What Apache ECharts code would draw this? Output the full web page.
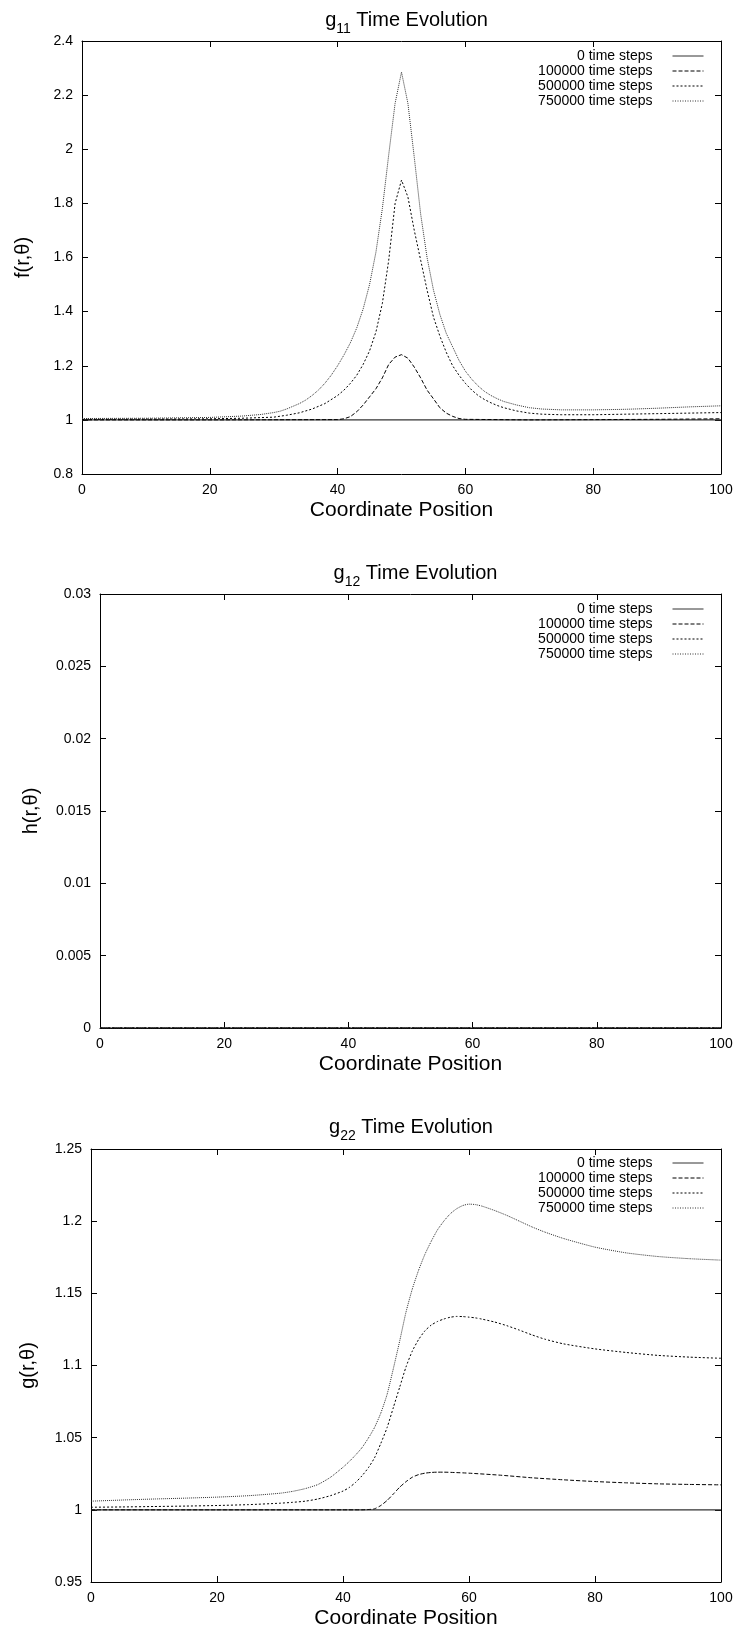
<!DOCTYPE html>
<html><head><meta charset="utf-8">
<script src="https://cdn.jsdelivr.net/npm/echarts@6/dist/echarts.min.js"></script>
<style>html,body{margin:0;padding:0;background:#fff}#c{width:738px;height:1631px}</style>
</head><body><div id="c"></div><script>
// ---------- DATA ----------
const seriesNames = ['0 time steps', '100000 time steps', '500000 time steps', '750000 time steps'];
const chartTitles = [['g', '11'], ['g', '12'], ['g', '22']];
const yNames = ['f(r,\u03b8)', 'h(r,\u03b8)', 'g(r,\u03b8)'];
const xName = 'Coordinate Position';

// g11
const g11_0_x = [0, 100];
const g11_0_y = [1, 1];
const g11_100k_x = [0, 20, 40, 41, 42, 43, 44, 45, 46, 47, 48, 49, 50, 51, 52, 53, 54, 55, 56, 57, 58, 59, 60, 70, 80, 90, 100];
const g11_100k_y = [1.0, 1.0, 1.001, 1.004, 1.012, 1.03, 1.055, 1.085, 1.115, 1.155, 1.205, 1.232, 1.241, 1.228, 1.195, 1.155, 1.11, 1.078, 1.045, 1.025, 1.013, 1.005, 1.002, 1.0, 1.001, 1.002, 1.004];
const g11_500k_x = [0, 10, 20, 25, 30, 32, 34, 36, 38, 40, 41, 42, 43, 44, 45, 46, 47, 48, 49, 50, 51, 52, 53, 54, 55, 56, 57, 58, 59, 60, 61, 62, 63, 64, 65, 66, 68, 70, 72, 75, 80, 85, 90, 95, 100];
const g11_500k_y = [1.002, 1.003, 1.004, 1.006, 1.01, 1.017, 1.026, 1.04, 1.06, 1.09, 1.11, 1.135, 1.165, 1.205, 1.255, 1.325, 1.43, 1.59, 1.8, 1.886, 1.824, 1.7, 1.59, 1.48, 1.38, 1.31, 1.25, 1.2, 1.165, 1.135, 1.11, 1.09, 1.075, 1.063, 1.053, 1.045, 1.033, 1.025, 1.021, 1.019, 1.019, 1.021, 1.023, 1.025, 1.027];
const g11_750k_x = [0, 10, 20, 25, 28, 30, 31, 32, 33, 34, 35, 36, 37, 38, 39, 40, 41, 42, 43, 44, 45, 46, 47, 48, 49, 50, 51, 52, 53, 54, 55, 56, 57, 58, 59, 60, 61, 62, 63, 64, 65, 66, 68, 70, 72, 75, 80, 85, 90, 95, 100];
const g11_750k_y = [1.005, 1.006, 1.009, 1.014, 1.02, 1.027, 1.032, 1.04, 1.05, 1.06, 1.073, 1.09, 1.11, 1.135, 1.165, 1.2, 1.24, 1.285, 1.34, 1.41, 1.5, 1.62, 1.78, 1.98, 2.17, 2.285, 2.17, 1.97, 1.76, 1.6, 1.48, 1.39, 1.32, 1.27, 1.22, 1.18, 1.15, 1.125, 1.105, 1.09, 1.078, 1.068, 1.055, 1.045, 1.04, 1.037, 1.037, 1.039, 1.043, 1.048, 1.052];

// g12 (all zero)
const g12_x = [0, 100];
const g12_0_y = [0, 0];
const g12_100k_y = [0, 0];
const g12_500k_y = [0, 0];
const g12_750k_y = [0, 0];

// g22
const g22_0_x = [0, 100];
const g22_0_y = [1, 1];
const g22_100k_x = [0, 20, 40, 43, 44, 45, 46, 47, 48, 49, 50, 51, 52, 53, 54, 55, 56, 58, 60, 65, 70, 75, 80, 85, 90, 95, 100];
const g22_100k_y = [1.0, 1.0, 1.0, 1.0, 1.0002, 1.0007, 1.003, 1.0065, 1.011, 1.0157, 1.0195, 1.0226, 1.0244, 1.0254, 1.0259, 1.0261, 1.0261, 1.0258, 1.0254, 1.024, 1.0222, 1.0208, 1.0196, 1.0187, 1.018, 1.0176, 1.0173];
const g22_500k_x = [0, 5, 10, 15, 20, 25, 30, 32, 34, 36, 38, 40, 41, 42, 43, 44, 45, 46, 47, 48, 49, 50, 51, 52, 53, 54, 55, 56, 57, 58, 59, 60, 61, 62, 64, 66, 68, 70, 72, 75, 80, 85, 90, 95, 100];
const g22_500k_y = [1.0018, 1.002, 1.0023, 1.0026, 1.003, 1.0036, 1.0046, 1.0052, 1.006, 1.0075, 1.0098, 1.013, 1.0155, 1.019, 1.0235, 1.029, 1.036, 1.046, 1.057, 1.071, 1.085, 1.099, 1.11, 1.118, 1.124, 1.128, 1.1305, 1.1322, 1.1334, 1.134, 1.1339, 1.1335, 1.133, 1.1322, 1.1302, 1.1276, 1.1245, 1.1212, 1.1183, 1.115, 1.1115, 1.109, 1.107, 1.1058, 1.105];
const g22_750k_x = [0, 5, 10, 15, 20, 25, 30, 32, 34, 36, 38, 40, 41, 42, 43, 44, 45, 46, 47, 48, 49, 50, 51, 52, 53, 54, 55, 56, 57, 58, 59, 60, 61, 62, 64, 66, 68, 70, 72, 75, 80, 85, 90, 95, 100];
const g22_750k_y = [1.006, 1.0068, 1.0075, 1.0081, 1.0088, 1.0098, 1.0115, 1.0128, 1.0147, 1.0175, 1.0225, 1.0295, 1.0335, 1.038, 1.043, 1.0495, 1.057, 1.067, 1.08, 1.098, 1.117, 1.137, 1.153, 1.166, 1.177, 1.186, 1.194, 1.2, 1.205, 1.2085, 1.2108, 1.2118, 1.2115, 1.2105, 1.2075, 1.204, 1.2, 1.196, 1.1925, 1.188, 1.182, 1.178, 1.1755, 1.174, 1.173];

// axis ranges / tick steps
const xMin = 0, xMax = 100, xStep = 20;
const yRanges = [[0.8, 2.4, 0.2], [0, 0.03, 0.005], [0.95, 1.25, 0.05]];

// ---------- LAYOUT / STYLE ----------
const FONT = '"Liberation Sans", Arial, Helvetica, sans-serif';
const grids = [
  {left: 82, top: 41, right: 17, height: 433},
  {left: 100, top: 594, right: 17, height: 434},
  {left: 91, top: 1149, right: 17, height: 433}
];
const yNameGaps = [49, 59, 53];
const titleTops = [5, 558, 1112];
const legendTops = [44, 597, 1151];
const smoothing = [false, false, 0.2];
const lineStyles = [
  {color: '#333', type: 'solid', width: 1.2},
  {color: '#000', type: [4, 2], width: 1},
  {color: '#000', type: [2, 2], width: 1},
  {color: '#333', type: [1, 1], width: 1}
];
const legendLineTypes = ['solid', [4, 2], [2, 2], [1, 1.5]];

function pts(xs, ys) { return xs.map((x, i) => [x, ys[i]]); }
const chartData = [
  [pts(g11_0_x, g11_0_y), pts(g11_100k_x, g11_100k_y), pts(g11_500k_x, g11_500k_y), pts(g11_750k_x, g11_750k_y)],
  [pts(g12_x, g12_0_y), pts(g12_x, g12_100k_y), pts(g12_x, g12_500k_y), pts(g12_x, g12_750k_y)],
  [pts(g22_0_x, g22_0_y), pts(g22_100k_x, g22_100k_y), pts(g22_500k_x, g22_500k_y), pts(g22_750k_x, g22_750k_y)]
];

const xAxis = [], yAxis = [], series = [], title = [], legend = [];
const tick = {show: true, inside: true, length: 6, lineStyle: {color: '#000', width: 1}};
const aline = {show: true, onZero: false, lineStyle: {color: '#000', width: 1}};
grids.forEach((g, gi) => {
  const [ymin, ymax, ystep] = yRanges[gi];
  xAxis.push({
    type: 'value', gridIndex: gi, position: 'bottom', min: xMin, max: xMax, interval: xStep,
    name: xName, nameLocation: 'middle', nameGap: 26,
    nameTextStyle: {fontSize: 21, color: '#000', fontFamily: FONT},
    axisLine: aline, axisTick: tick, splitLine: {show: false},
    axisLabel: {fontSize: 14, color: '#000', margin: 9, fontFamily: FONT}
  });
  xAxis.push({
    type: 'value', gridIndex: gi, position: 'top', min: xMin, max: xMax, interval: xStep,
    axisLine: aline, axisTick: tick, splitLine: {show: false}, axisLabel: {show: false}
  });
  yAxis.push({
    type: 'value', gridIndex: gi, position: 'left', min: ymin, max: ymax, interval: ystep,
    name: yNames[gi], nameLocation: 'middle', nameGap: yNameGaps[gi], nameRotate: 90,
    nameTextStyle: {fontSize: 20, color: '#000', fontFamily: FONT},
    axisLine: aline, axisTick: tick, splitLine: {show: false},
    axisLabel: {fontSize: 14, color: '#000', margin: 9, fontFamily: FONT}
  });
  yAxis.push({
    type: 'value', gridIndex: gi, position: 'right', min: ymin, max: ymax, interval: ystep,
    axisLine: aline, axisTick: tick, splitLine: {show: false}, axisLabel: {show: false}
  });
  title.push({
    text: '{a|' + chartTitles[gi][0] + '}{s|' + chartTitles[gi][1] + '}{a| Time Evolution}',
    left: g.left + (738 - g.left - g.right) / 2, top: titleTops[gi], textAlign: 'center',
    textStyle: {rich: {
      a: {fontSize: 20, fontWeight: 'normal', fontFamily: FONT, color: '#000', lineHeight: 24, verticalAlign: 'top'},
      s: {fontSize: 14, fontWeight: 'normal', fontFamily: FONT, color: '#000', lineHeight: 14, padding: [12, 0, 0, 0], verticalAlign: 'top'}
    }}
  });
  legend.push({
    data: seriesNames.map((n, si) => ({name: n, lineStyle: {type: legendLineTypes[si], width: 1, color: lineStyles[si].color}})),
    orient: 'vertical', right: 29, top: legendTops[gi], align: 'right',
    itemWidth: 31, itemHeight: 14, itemGap: 1, selectedMode: false,
    itemStyle: {color: 'rgba(0,0,0,0)', borderWidth: 0, opacity: 0},
    lineStyle: {width: 1},
    textStyle: {fontSize: 14, color: '#000', fontFamily: FONT, lineHeight: 14, padding: [0, 15, 0, 0]}
  });
  seriesNames.forEach((n, si) => {
    series.push({
      type: 'line', name: n, xAxisIndex: gi * 2, yAxisIndex: gi * 2,
      data: chartData[gi][si], symbol: 'none', showSymbol: false, smooth: smoothing[gi],
      color: lineStyles[si].color,
      lineStyle: lineStyles[si], animation: false, z: 3 + si
    });
  });
});

const chart = echarts.init(document.getElementById('c'), null, {renderer: 'canvas'});
chart.setOption({
  animation: false, backgroundColor: '#fff',
  grid: grids.map(g => Object.assign({containLabel: false}, g)),
  title, legend, xAxis, yAxis, series
});
</script></body></html>
